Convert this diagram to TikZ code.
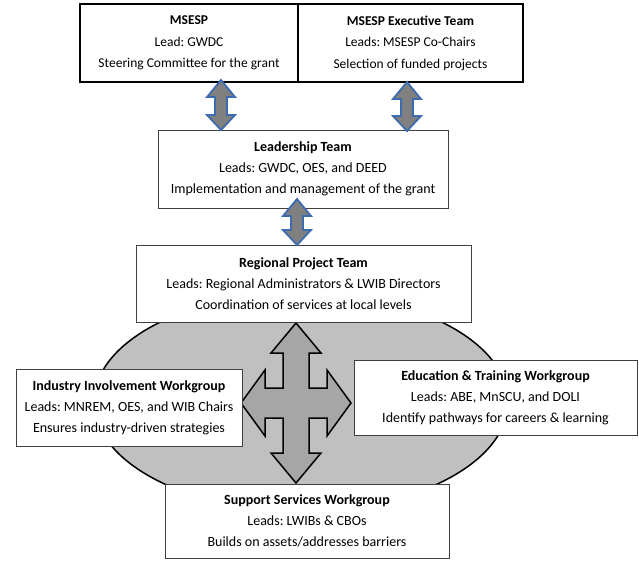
\documentclass[tikz,border=0pt]{standalone}
\usepackage{fontspec}
\setmainfont{Carlito}
\usetikzlibrary{calc,shadows}
\definecolor{ellfill}{HTML}{C0C0C0}
\definecolor{crossfill}{HTML}{A6A6A6}
\definecolor{arrfill}{HTML}{808080}
\definecolor{arrline}{HTML}{3D6BAF}
\newcommand\vdblarrow[2]{%
  \draw[dblarr] let \p1=(#1), \p2=(#2) in
    (\x1,\y1) -- (\x1+14pt,\y1-17pt) -- (\x1+6pt,\y1-17pt) -- (\x1+6pt,\y2+15pt)
    -- (\x1+14pt,\y2+15pt) -- (\x1,\y2) -- (\x1-14pt,\y2+15pt) -- (\x1-6pt,\y2+15pt)
    -- (\x1-6pt,\y1-17pt) -- (\x1-14pt,\y1-17pt) -- cycle;}
\begin{document}
\frenchspacing
\begin{tikzpicture}[x=1pt,y=-1pt,
  box/.style={draw=black!75, line width=0.8pt, fill=white, align=center, inner sep=2pt,
    font=\fontsize{14}{21}\selectfont,
    drop shadow={shadow xshift=1.2pt, shadow yshift=-1.4pt, fill=black!55, opacity=1}},
  topbox/.style={draw=black, line width=1.6pt, fill=white, align=center, inner sep=2pt,
    font=\fontsize{13.5}{21.5}\selectfont},
  dblarr/.style={fill=arrfill, draw=arrline, line width=1.8pt, line join=miter},
  crossarr/.style={fill=crossfill, draw=black, line width=1.5pt, line join=miter},
  ell/.style={fill=ellfill, draw=black, line width=1.5pt}]
\useasboundingbox (0,0) rectangle (639,560);
\fill[white] (0,0) rectangle (639,560);

% background ellipse
\draw[ell] (301,402) ellipse [x radius=207pt, y radius=109pt];

% cross arrow
\begin{scope}[shift={(296,403)}]
\draw[crossarr] (0,-80) -- (25,-50) -- (13,-50) -- (13,-15) -- (31,-15) -- (31,-33)
  -- (55,0) -- (31,33) -- (31,15) -- (13,15) -- (13,50) -- (25,50) -- (0,80)
  -- (-25,50) -- (-13,50) -- (-13,15) -- (-31,15) -- (-31,33) -- (-55,0)
  -- (-31,-33) -- (-31,-15) -- (-13,-15) -- (-13,-50) -- (-25,-50) -- cycle;
\end{scope}

% boxes
\node[topbox, minimum width=218pt, minimum height=78pt] (msesp) at (189,43)
  {\textbf{MSESP}\\Lead: GWDC\\Steering Committee for the grant};
\node[topbox, minimum width=225pt, minimum height=78pt] (exec) at (410.5,43)
  {\textbf{MSESP Executive Team}\\Leads: MSESP Co-Chairs\\Selection of funded projects};
\node[box, minimum width=290pt, minimum height=78pt] (lead) at (303,169)
  {\textbf{Leadership Team}\\Leads: GWDC, OES, and DEED\\Implementation and management of the grant};
\node[box, minimum width=335pt, minimum height=77pt] (region) at (303.5,283.5)
  {\textbf{Regional Project Team}\\Leads: Regional Administrators \& LWIB Directors\\Coordination of services at local levels};
\node[box, minimum width=226pt, minimum height=77pt] (industry) at (129,407.5)
  {\textbf{Industry Involvement Workgroup}\\Leads: MNREM, OES, and WIB Chairs\\Ensures industry-driven strategies};
\node[box, minimum width=283pt, minimum height=75pt] (edu) at (495.5,397.5)
  {\textbf{Education \& Training Workgroup}\\Leads: ABE, MnSCU, and DOLI\\Identify pathways for careers \& learning};
\node[box, minimum width=284pt, minimum height=74pt] (support) at (307,521)
  {\textbf{Support Services Workgroup}\\Leads: LWIBs \& CBOs\\Builds on assets/addresses barriers};

% double arrows between levels
\coordinate (a1t) at (221,80);  \coordinate (a1b) at (221,130);
\coordinate (a2t) at (407,82);  \coordinate (a2b) at (407,131);
\coordinate (a3t) at (297,199); \coordinate (a3b) at (297,245);
\vdblarrow{a1t}{a1b}
\vdblarrow{a2t}{a2b}
\vdblarrow{a3t}{a3b}
\end{tikzpicture}
\end{document}
